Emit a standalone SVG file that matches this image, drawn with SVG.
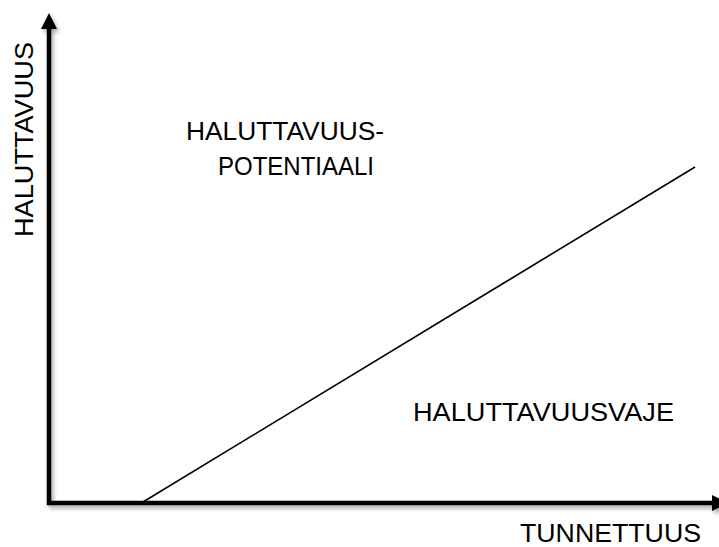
<svg xmlns="http://www.w3.org/2000/svg" width="719" height="547" viewBox="0 0 719 547">
  <style>
    .lbl { font-family: "Liberation Sans", Arial, sans-serif; font-size: 25px; fill: #000; }
    .axis { stroke: #000; stroke-width: 4.5; fill: none; }
  </style>
  <defs>
    <filter id="shadow" x="-10%" y="-10%" width="120%" height="120%">
      <feDropShadow dx="2" dy="3" stdDeviation="2" flood-color="#000" flood-opacity="0.35"/>
    </filter>
  </defs>
  <rect width="719" height="547" fill="#fff"/>
  <g id="connectors">
    <g id="axes" filter="url(#shadow)">
      <path class="axis" d="M49,505 V26"/>
      <polygon points="49,13 41,29 57,29" fill="#000"/>
      <path class="axis" d="M47,503 H712"/>
      <polygon points="728,503 712,495 712,511" fill="#000"/>
    </g>
    <line id="trend" x1="143" y1="502" x2="695" y2="167" stroke="#000" stroke-width="1.6"/>
  </g>
  <g id="y-label">
    <text class="lbl" transform="translate(33,237) rotate(-90)" textLength="195" lengthAdjust="spacingAndGlyphs">HALUTTAVUUS</text>
  </g>
  <g id="potential">
    <text class="lbl" x="186" y="140" textLength="198" lengthAdjust="spacingAndGlyphs">HALUTTAVUUS-</text>
    <text class="lbl" x="218" y="175" textLength="156" lengthAdjust="spacingAndGlyphs">POTENTIAALI</text>
  </g>
  <g id="deficit">
    <text class="lbl" x="413" y="421" textLength="261" lengthAdjust="spacingAndGlyphs">HALUTTAVUUSVAJE</text>
  </g>
  <g id="x-label">
    <text class="lbl" x="520" y="542" textLength="181" lengthAdjust="spacingAndGlyphs">TUNNETTUUS</text>
  </g>
</svg>
